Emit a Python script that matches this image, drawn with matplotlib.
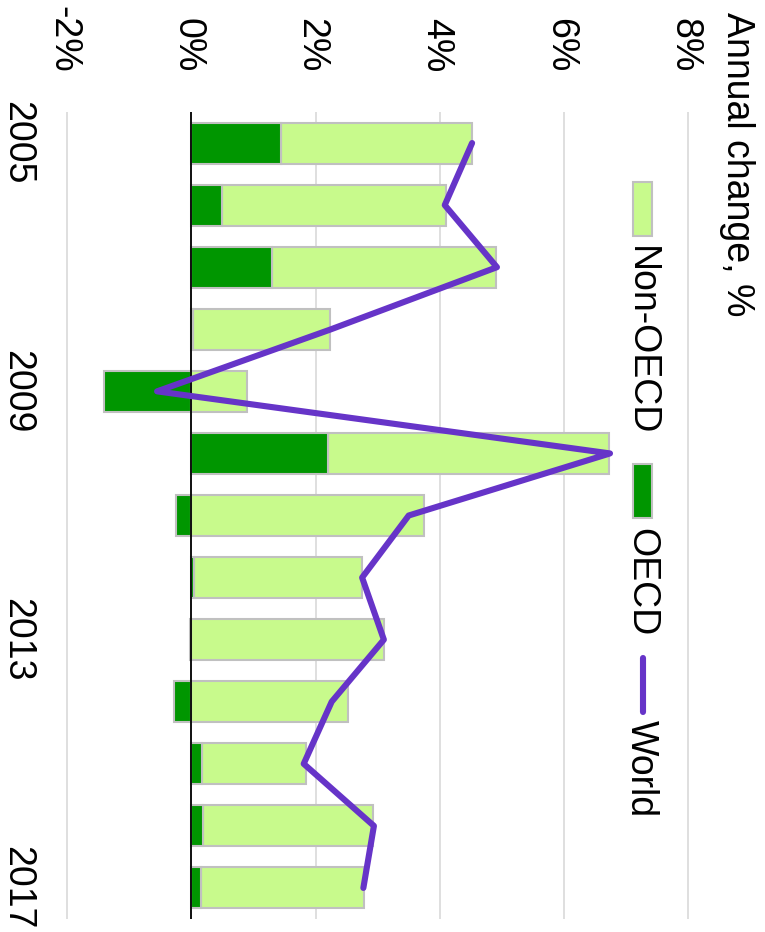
import matplotlib
matplotlib.use("Agg")
import matplotlib.pyplot as plt
from matplotlib.patches import Rectangle
from matplotlib.lines import Line2D
import numpy as np

# ---------------- data ----------------
years = [2005, 2006, 2007, 2008, 2009, 2010, 2011, 2012, 2013, 2014, 2015, 2016, 2017]
oecd = [1.44, 0.49, 1.30, 0.03, -1.40, 2.20, -0.24, 0.04, -0.02, -0.27, 0.17, 0.19, 0.16]
non_oecd = [3.08, 3.61, 3.60, 2.21, 0.89, 4.53, 3.74, 2.71, 3.10, 2.52, 1.67, 2.74, 2.62]
world = [4.52, 4.08, 4.92, 2.25, -0.55, 6.74, 3.50, 2.75, 3.10, 2.26, 1.81, 2.94, 2.77]

year_ticks = [2005, 2009, 2013, 2017]
year_labels = ["2005", "2009", "2013", "2017"]
value_ticks = [-2, 0, 2, 4, 6, 8]
value_labels = ["-2%", "0%", "2%", "4%", "6%", "8%"]
series_names = ["Non-OECD", "OECD", "World"]
title_text = "Annual change, %"

# ---------------- style ----------------
C_NON = "#c8fa8c"
C_OECD = "#009600"
C_WORLD = "#6634c8"
C_EDGE = "#c0c0c0"
C_GRID = "#dcdcdc"
FS = 27

plt.rcParams["font.family"] = ["Liberation Sans", "DejaVu Sans"]
plt.rcParams["axes.unicode_minus"] = False

W, H = 765, 932
fig = plt.figure(figsize=(W / 100, H / 100), dpi=100)


def fx(px):
    return px / W


def fy(py):
    return 1 - py / H


# axes geometry (pixels): -2 -> 67, 8 -> 688.3 ; top 112, bottom 919
XMIN, XMAX = -2.05, 8.05
ppu = (688.3 - 67.0) / 10.0
left_px = 67.0 + (XMIN + 2) * ppu
right_px = 688.3 + (XMAX - 8) * ppu
top_px, bot_px = 112.0, 919.0

ax = fig.add_axes([fx(left_px), fy(bot_px), (right_px - left_px) / W, (bot_px - top_px) / H])
ax.set_xlim(XMIN, XMAX)
ax.set_ylim(years[-1] + 0.5, years[0] - 0.5)
for s in ax.spines.values():
    s.set_visible(False)
ax.set_facecolor("white")

ax.set_xticks(value_ticks, labels=value_labels)
ax.xaxis.grid(True, color=C_GRID, linewidth=1.3)
ax.yaxis.grid(False)
ax.set_axisbelow(True)
ax.tick_params(axis="x", top=True, bottom=False, labeltop=True, labelbottom=False,
               length=0, pad=28.5, labelsize=FS)
ax.set_yticks(year_ticks, labels=year_labels)
ax.tick_params(axis="y", left=True, length=0, pad=21.0, labelsize=FS)
plt.setp(ax.get_xticklabels(), rotation=-90, rotation_mode="anchor",
         ha="right", va="center_baseline")
plt.setp(ax.get_yticklabels(), rotation=-90, rotation_mode="anchor",
         ha="center", va="top")

y = np.array(years, dtype=float)
o = np.array(oecd)
n = np.array(non_oecd)
non_left = np.where(o > 0, o, 0.0)
BH = 0.66
ax.barh(y, n, left=non_left, height=BH, color=C_NON, edgecolor=C_EDGE, linewidth=1.5, zorder=2)
ax.barh(y, o, height=BH, color=C_OECD, edgecolor=C_EDGE, linewidth=1.5, zorder=2)
ax.axvline(0, color="black", linewidth=1.3, zorder=3)
ax.plot(world, years, color=C_WORLD, linewidth=4.4, solid_capstyle="round",
        solid_joinstyle="round", zorder=4)

# ---------------- title ----------------
fig.text(fx(727), fy(12), title_text, rotation=-90, rotation_mode="anchor",
         ha="left", va="baseline", fontsize=FS, color="black")

# ---------------- legend (rotated) ----------------
def legend_patch(y0, y1, color):
    fig.add_artist(Rectangle((fx(633), fy(y1)), (652 - 633) / W, (y1 - y0) / H,
                             transform=fig.transFigure, facecolor=color,
                             edgecolor=C_EDGE, linewidth=1.5))


legend_patch(182, 236, C_NON)
legend_patch(464, 518, C_OECD)
fig.add_artist(Line2D([fx(642.5), fx(642.5)], [fy(658), fy(712)], transform=fig.transFigure,
                      color=C_WORLD, linewidth=4.4, solid_capstyle="round"))
for label, ypos in zip(series_names, [246, 528, 720]):
    fig.text(fx(631), fy(ypos), label, rotation=-90, rotation_mode="anchor",
             ha="left", va="baseline", fontsize=FS, color="black")

fig.savefig("out.png", dpi=100, facecolor="white")
